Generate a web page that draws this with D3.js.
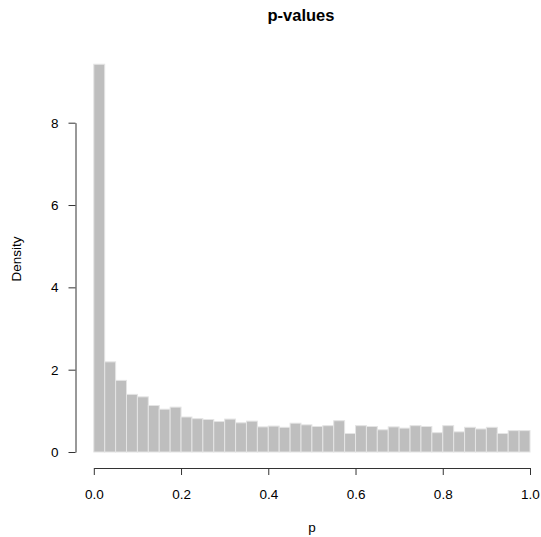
<!DOCTYPE html>
<html>
<head>
<meta charset="utf-8">
<script src="https://cdn.jsdelivr.net/npm/d3@7"></script>
<style>
  body { margin: 0; background: #fff; }
  text { font-family: "Liberation Sans", Arial, sans-serif; fill: #000; }
</style>
</head>
<body>
<div id="chart"></div>
<script>
// Histogram data (density per bin, 40 bins of width 0.025)
var binEdges = d3.range(0, 40).map(i => i * 0.025);
var binWidth = 0.025;
var density = [
  9.42, 2.19, 1.74, 1.40, 1.34, 1.13, 1.04, 1.09, 0.85, 0.81,
  0.79, 0.74, 0.80, 0.71, 0.75, 0.61, 0.63, 0.60, 0.70, 0.66,
  0.62, 0.64, 0.76, 0.45, 0.64, 0.62, 0.54, 0.61, 0.58, 0.64,
  0.62, 0.47, 0.64, 0.49, 0.60, 0.56, 0.60, 0.45, 0.52, 0.52
];
var xTicks = [0, 0.2, 0.4, 0.6, 0.8, 1.0];
var yTicks = [0, 2, 4, 6, 8];

var svgWidth = 541;
var svgHeight = 537;

var svg = d3.select("#chart")
  .append("svg")
  .attr("width", svgWidth)
  .attr("height", svgHeight);

var x = d3.scaleLinear()
  .domain([0, 1])
  .range([93.8, 530]);

var y = d3.scaleLinear()
  .domain([0, 8])
  .range([452, 122.7]);

// bars
svg.append("g")
  .selectAll("rect")
  .data(density)
  .enter()
  .append("rect")
  .attr("x", (d, i) => x(binEdges[i]))
  .attr("width", x(binWidth) - x(0))
  .attr("y", d => y(d))
  .attr("height", d => y(0) - y(d))
  .attr("fill", "#bebebe")
  .attr("stroke", "#e4e4e4")
  .attr("stroke-width", 1);

// x axis
var bottomAxis = d3.axisBottom(x)
  .tickValues(xTicks)
  .tickSize(7)
  .tickSizeOuter(0)
  .tickPadding(14)
  .tickFormat(d3.format(".1f"));

var gx = svg.append("g")
  .attr("transform", "translate(0, 468)")
  .call(bottomAxis);

// y axis
var leftAxis = d3.axisLeft(y)
  .tickValues(yTicks)
  .tickSize(7)
  .tickSizeOuter(0)
  .tickPadding(10)
  .tickFormat(d3.format("d"));

var gy = svg.append("g")
  .attr("transform", "translate(75.5, 0)")
  .call(leftAxis);

[gx, gy].forEach(function (g) {
  g.selectAll("path, line").attr("stroke", "#333");
  g.selectAll("text")
    .style("font-family", "'Liberation Sans', Arial, sans-serif")
    .style("font-size", "13.5px")
    .attr("fill", "#000");
});

// labels
svg.append("text")
  .attr("x", 301)
  .attr("y", 21)
  .attr("text-anchor", "middle")
  .style("font-size", "16.5px")
  .style("font-weight", "bold")
  .text("p-values");

svg.append("text")
  .attr("x", 312)
  .attr("y", 532)
  .attr("text-anchor", "middle")
  .style("font-size", "13.5px")
  .text("p");

svg.append("text")
  .attr("transform", "translate(21, 259) rotate(-90)")
  .attr("text-anchor", "middle")
  .style("font-size", "13.5px")
  .text("Density");
</script>
</body>
</html>
